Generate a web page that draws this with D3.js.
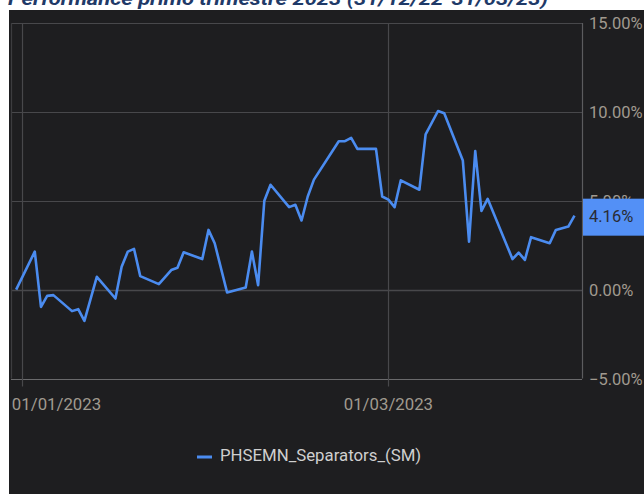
<!DOCTYPE html>
<html>
<head>
<meta charset="utf-8">
<script src="https://d3js.org/d3.v7.min.js"></script>
<style>
	body { margin: 0; background: #ffffff; }
	svg { display: block; }
	text { font-family: Roboto, 'Noto Sans', sans-serif; }
</style>
</head>
<body>
<div id="chart"></div>
<script>
// Data (cumulative performance, %)
const dates = ['2022-12-31', '2023-01-03', '2023-01-04', '2023-01-05', '2023-01-06', '2023-01-09', '2023-01-10',
	'2023-01-11', '2023-01-13', '2023-01-16', '2023-01-17', '2023-01-18', '2023-01-19', '2023-01-20', '2023-01-23',
	'2023-01-25', '2023-01-26', '2023-01-27', '2023-01-30', '2023-01-31', '2023-02-01', '2023-02-03', '2023-02-06',
	'2023-02-07', '2023-02-08', '2023-02-09', '2023-02-10', '2023-02-13', '2023-02-14', '2023-02-15', '2023-02-16',
	'2023-02-17', '2023-02-21', '2023-02-22', '2023-02-23', '2023-02-24', '2023-02-27', '2023-02-28', '2023-03-01',
	'2023-03-02', '2023-03-03', '2023-03-06', '2023-03-07', '2023-03-09', '2023-03-10', '2023-03-13', '2023-03-14',
	'2023-03-15', '2023-03-16', '2023-03-17', '2023-03-21', '2023-03-22', '2023-03-23', '2023-03-24', '2023-03-27',
	'2023-03-28', '2023-03-30', '2023-03-31'];
const values = [0.00, 2.14, -0.97, -0.35, -0.31, -1.21, -1.10, -1.76, 0.72, -0.50, 1.29, 2.14, 2.29, 0.76, 0.31,
	1.10, 1.23, 2.10, 1.72, 3.36, 2.61, -0.16, 0.12, 2.14, 0.25, 5.00, 5.90, 4.64, 4.77, 3.89, 5.24,
	6.19, 8.35, 8.35, 8.54, 7.92, 7.92, 5.24, 5.06, 4.64, 6.15, 5.62, 8.73, 10.05, 9.92, 7.26, 2.70,
	7.79, 4.43, 5.11, 1.72, 2.08, 1.67, 2.95, 2.61, 3.36, 3.55, 4.16];
const yTicks = [-5, 0, 5, 10, 15];
const xTicks = ['2023-01-01', '2023-03-01'];
const seriesName = 'PHSEMN_Separators_(SM)';
const lastLabel = '4.16%';
const title = 'Performance primo trimestre 2023 (31/12/22-31/03/23)';

const width = 644, height = 497;
const plot = { left: 11, right: 582, top: 23, bottom: 378.5 };

const parse = d3.utcParse('%Y-%m-%d');
const points = dates.map((d, i) => ({ date: parse(d), value: values[i] }));

const x = d3.scaleUtc()
	.domain([Date.UTC(2022, 11, 30, 4), Date.UTC(2023, 3, 1, 5)])
	.range([plot.left, plot.right]);
const y = d3.scaleLinear()
	.domain([-5, 15])
	.range([plot.bottom, plot.top]);

const svg = d3.select('#chart').append('svg')
	.attr('width', width)
	.attr('height', height);

// Title (cut off at the top edge)
svg.append('text')
	.attr('x', 8)
	.attr('y', 5)
	.attr('font-size', 18)
	.attr('font-weight', 'bold')
	.attr('font-style', 'italic')
	.attr('fill', '#1f3a68')
	.attr('textLength', 540)
	.attr('lengthAdjust', 'spacingAndGlyphs')
	.text(title);

// Dark panel
svg.append('rect')
	.attr('x', 9)
	.attr('y', 10)
	.attr('width', width - 9)
	.attr('height', 484)
	.attr('fill', '#1e1e20');

// Grid
const grid = svg.append('g');
grid.selectAll('line.h')
	.data(yTicks)
.join('line')
	.attr('class', 'h')
	.attr('x1', plot.left)
	.attr('x2', plot.right)
	.attr('y1', d => Math.round(y(d)) + 0.5)
	.attr('y2', d => Math.round(y(d)) + 0.5)
	.attr('stroke', d => d === -5 ? '#6a6a6c' : '#48484b')
	.attr('stroke-width', d => d === 0 ? 1.6 : 1.2);

grid.selectAll('line.v')
	.data(xTicks)
.join('line')
	.attr('class', 'v')
	.attr('x1', d => Math.round(x(parse(d))) + 0.5)
	.attr('x2', d => Math.round(x(parse(d))) + 0.5)
	.attr('y1', plot.top)
	.attr('y2', plot.bottom + 8)
	.attr('stroke', '#48484b')
	.attr('stroke-width', 1.2);

// Frame
svg.append('line')
	.attr('x1', plot.left + 0.5).attr('x2', plot.left + 0.5)
	.attr('y1', plot.top).attr('y2', plot.bottom)
	.attr('stroke', '#3c3c3f').attr('stroke-width', 1.2);
svg.append('line')
	.attr('x1', plot.right + 0.5).attr('x2', plot.right + 0.5)
	.attr('y1', plot.top).attr('y2', plot.bottom)
	.attr('stroke', '#5c5c5f').attr('stroke-width', 1.2);

// Y labels
svg.append('g').selectAll('text')
	.data(yTicks)
.join('text')
	.attr('x', 589)
	.attr('y', d => y(d) + 2)
	.attr('dominant-baseline', 'middle')
	.attr('font-size', 16.5)
	.attr('fill', '#a09a8f')
	.text(d => d3.format('.2f')(d) + '%');

// X labels
svg.append('g').selectAll('text')
	.data(xTicks)
.join('text')
	.attr('x', d => Math.max(x(parse(d)), 56.5))
	.attr('y', 406)
	.attr('text-anchor', 'middle')
	.attr('dominant-baseline', 'middle')
	.attr('font-size', 16.8)
	.attr('fill', '#a09a8f')
	.text(d => d3.utcFormat('%d/%m/%Y')(parse(d)));

// Series line
const line = d3.line()
	.x(d => x(d.date))
	.y(d => y(d.value));

svg.append('path')
	.datum(points)
	.attr('d', line)
	.attr('fill', 'none')
	.attr('stroke', '#4b8cf0')
	.attr('stroke-width', 2.6)
	.attr('stroke-linejoin', 'round');

// Last value label
const last = points[points.length - 1];
svg.append('rect')
	.attr('x', plot.right + 1)
	.attr('y', y(last.value) - 17)
	.attr('width', width - plot.right - 1)
	.attr('height', 37)
	.attr('fill', '#5390f6');
svg.append('text')
	.attr('x', 589)
	.attr('y', y(last.value) + 2)
	.attr('dominant-baseline', 'middle')
	.attr('font-size', 16.5)
	.attr('fill', '#2a2c33')
	.text(lastLabel);

// Legend
const legend = svg.append('g');
legend.append('line')
	.attr('x1', 197).attr('x2', 212)
	.attr('y1', 457).attr('y2', 457)
	.attr('stroke', '#4b8cf0')
	.attr('stroke-width', 3);
legend.append('text')
	.attr('x', 220)
	.attr('y', 457)
	.attr('dominant-baseline', 'middle')
	.attr('font-size', 16.8)
	.attr('fill', '#cfcfcf')
	.text(seriesName);
</script>
</body>
</html>
